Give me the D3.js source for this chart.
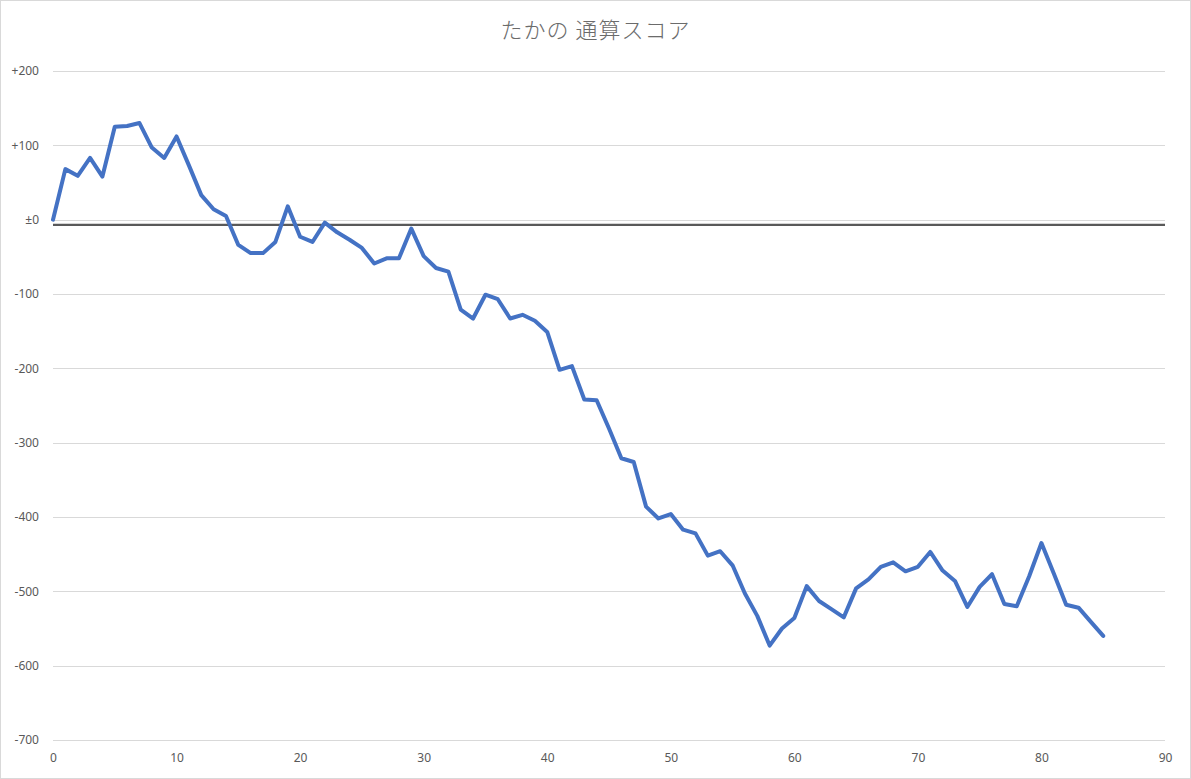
<!DOCTYPE html>
<html>
  <head>
    <meta charset="UTF-8">
    <title>たかの 通算スコア</title>
    <script src="https://cdn.jsdelivr.net/npm/d3@7"></script>
    <style>
      body, html {
        margin:0; padding:0; background:#fff;
      }
      svg { display:block; }
      .tick text { font-family: "Noto Sans", "Liberation Sans", sans-serif; fill:#595959; font-size:12px; }
    </style>
  </head>
  <body>

  <div id="chart"></div>

<script type="text/javascript">

var title = 'たかの 通算スコア';

// game number on x, cumulative score on y
var games = d3.range(0, 86);
var scores = [
     0,   68,   59,   83,   58,  125,  126,  130,   97,   83,
   112,   73,   33,   14,    5,  -34,  -45,  -45,  -30,   18,
   -23,  -30,   -4,  -17,  -27,  -38,  -59,  -52,  -52,  -12,
   -49,  -65,  -70, -121, -133, -101, -107, -133, -128, -136,
  -151, -202, -197, -242, -243, -281, -321, -326, -386, -402,
  -396, -417, -422, -452, -446, -465, -503, -533, -573, -550,
  -536, -493, -513, -524, -535, -496, -484, -467, -461, -473,
  -467, -447, -472, -486, -521, -494, -477, -517, -520, -480,
  -435, -476, -518, -522, -541, -560
];

// flat reference line (dark) just under zero
var refLevel = [-7];

var xTicks = [0, 10, 20, 30, 40, 50, 60, 70, 80, 90];
var yTicks = [200, 100, 0, -100, -200, -300, -400, -500, -600, -700];

var W = 1191, H = 779;
var margin = { top: 71, right: 26, bottom: 39, left: 53 };

var svg = d3.select('#chart').append('svg')
  .attr('width', W)
  .attr('height', H);

// chart border
svg.append('rect')
  .attr('x', 0.5).attr('y', 0.5)
  .attr('width', W - 1).attr('height', H - 1)
  .attr('fill', '#fff')
  .attr('stroke', '#d9d9d9');

var x = d3.scaleLinear().domain([0, 90]).range([margin.left, W - margin.right]);
var y = d3.scaleLinear().domain([-700, 200]).range([H - margin.bottom, margin.top]);

function fmt(v) {
  if (v === 0) return '±0';
  return v > 0 ? '+' + v : String(v);
}

// horizontal gridlines
svg.append('g').selectAll('line')
  .data(yTicks)
  .enter().append('line')
  .attr('x1', x(0)).attr('x2', x(90))
  .attr('y1', function(d){ return Math.round(y(d)) + 0.5; })
  .attr('y2', function(d){ return Math.round(y(d)) + 0.5; })
  .attr('stroke', '#d9d9d9')
  .attr('stroke-width', 1);

// y axis labels
var yAxis = d3.axisLeft(y).tickValues(yTicks).tickFormat(fmt).tickSize(0).tickPadding(14);
svg.append('g')
  .attr('transform', 'translate(' + margin.left + ',0)')
  .call(yAxis)
  .call(function(g){ g.select('.domain').remove(); });

// x axis labels
var xAxis = d3.axisBottom(x).tickValues(xTicks).tickFormat(d3.format('d')).tickSize(0).tickPadding(13);
svg.append('g')
  .attr('transform', 'translate(0,' + (H - margin.bottom) + ')')
  .call(xAxis)
  .call(function(g){ g.select('.domain').remove(); });

// reference line
svg.append('g').selectAll('line')
  .data(refLevel)
  .enter().append('line')
  .attr('x1', x(0)).attr('x2', x(90))
  .attr('y1', function(d){ return y(d); })
  .attr('y2', function(d){ return y(d); })
  .attr('stroke', '#595959')
  .attr('stroke-width', 2.25);

// score line
var line = d3.line()
  .x(function(d, i){ return x(games[i]); })
  .y(function(d){ return y(d); });

svg.append('path')
  .datum(scores)
  .attr('d', line)
  .attr('fill', 'none')
  .attr('stroke', '#4472c4')
  .attr('stroke-width', 4)
  .attr('stroke-linejoin', 'round')
  .attr('stroke-linecap', 'round');

// title
svg.append('text')
  .attr('x', W / 2)
  .attr('y', 38)
  .attr('text-anchor', 'middle')
  .attr('font-family', '"Noto Sans CJK JP", sans-serif')
  .attr('font-size', 22)
  .attr('font-weight', 300)
  .attr('letter-spacing', 1)
  .attr('fill', '#6b6b6b')
  .text(title);

</script>
  </body>
</html>
